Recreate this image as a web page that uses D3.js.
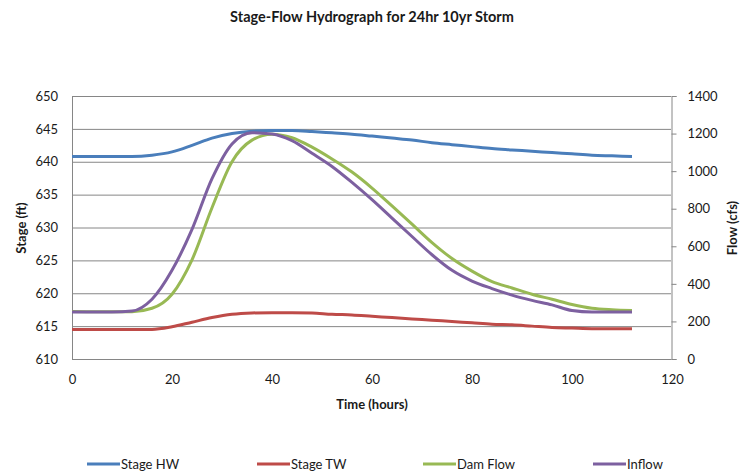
<!DOCTYPE html>
<html>
<head>
<meta charset="utf-8">
<script src="https://cdn.jsdelivr.net/npm/d3@7"></script>
<style>
  body { margin: 0; background: #fff; }
  svg { font-family: Lato, "Open Sans", sans-serif; }
</style>
</head>
<body>
<div id="chart"></div>
<script>
// data (time in hours)
const hours   = [0, 4, 8, 12, 16, 20, 24, 28, 32, 36, 40, 44, 48, 52, 56, 60, 64, 68, 72, 76, 80, 84, 88, 92, 96, 100, 104, 108, 112];
const stageHW = [640.8, 640.8, 640.8, 640.8, 641.0, 641.5, 642.5, 643.6, 644.3, 644.65, 644.75, 644.75, 644.6, 644.4, 644.2, 643.9, 643.6, 643.3, 642.9, 642.6, 642.3, 642.0, 641.8, 641.6, 641.4, 641.2, 641.0, 640.9, 640.8];
const stageTW = [614.5, 614.5, 614.5, 614.5, 614.5, 614.9, 615.6, 616.3, 616.8, 617.0, 617.05, 617.05, 617.0, 616.8, 616.7, 616.5, 616.3, 616.1, 615.9, 615.7, 615.5, 615.3, 615.2, 615.0, 614.8, 614.7, 614.6, 614.6, 614.6];
const damFlow = [253, 252, 252, 252, 270, 345, 528, 805, 1050, 1165, 1197, 1178, 1128, 1065, 995, 910, 815, 718, 620, 535, 468, 412, 378, 345, 318, 290, 270, 262, 258];
const inflow  = [250, 250, 250, 255, 318, 472, 690, 960, 1145, 1205, 1198, 1162, 1095, 1025, 940, 848, 750, 652, 555, 472, 415, 375, 340, 312, 288, 258, 250, 250, 250];

const leftTicks  = [610, 615, 620, 625, 630, 635, 640, 645, 650];
const rightTicks = [0, 200, 400, 600, 800, 1000, 1200, 1400];
const xTicks     = [0, 20, 40, 60, 80, 100, 120];

const seriesNames  = ["Stage HW", "Stage TW", "Dam Flow", "Inflow"];
const seriesColors = ["#4A7EBB", "#BE4B48", "#98B954", "#7D60A0"];

var width = 747, height = 471;
var plot = {left: 72, right: 671, top: 96, bottom: 359};
var gridColor = "#868686";

const svg = d3.select("#chart").append("svg")
    .attr("width", width)
    .attr("height", height);

var xScale = d3.scaleLinear().domain([0, 120]).range([plot.left, plot.left + 600]);
var yLeft  = d3.scaleLinear().domain([610, 650]).range([plot.bottom, plot.top]);
var yRight = d3.scaleLinear().domain([0, 1400]).range([plot.bottom, plot.top]);

// gridlines from the stage axis
svg.append("g").selectAll("line").data(leftTicks.slice(1)).enter().append("line")
    .attr("x1", plot.left).attr("x2", plot.right)
    .attr("y1", d => yLeft(d) + 0.5).attr("y2", d => yLeft(d) + 0.5)
    .attr("stroke", gridColor).attr("stroke-width", 1);

// left axis line
svg.append("line").attr("x1", plot.left + 0.5).attr("x2", plot.left + 0.5)
    .attr("y1", plot.top).attr("y2", plot.bottom).attr("stroke", gridColor);

// left axis
var gl = svg.append("g").attr("transform", "translate(" + plot.left + ",0)")
    .call(d3.axisLeft(yLeft).tickValues(leftTicks).tickSize(0).tickPadding(14));
gl.select(".domain").remove();

// right axis
var gr = svg.append("g").attr("transform", "translate(" + (plot.right + 0.5) + ",0)")
    .call(d3.axisRight(yRight).tickValues(rightTicks).tickFormat(d3.format("d")).tickSize(5).tickPadding(11));
gr.select(".domain").attr("stroke", gridColor);
gr.selectAll(".tick line").attr("stroke", gridColor);

// bottom axis
var gb = svg.append("g").attr("transform", "translate(0," + (plot.bottom + 0.5) + ")")
    .call(d3.axisBottom(xScale).tickValues(xTicks).tickSize(0).tickPadding(15));
gb.select(".domain").attr("stroke", gridColor).attr("d", "M" + plot.left + ",0H" + (plot.right + 0.5));

svg.selectAll(".tick text").attr("font-size", 13).attr("fill", "#1a1a1a")
    .style("font-family", "Lato, 'Open Sans', sans-serif");

// series lines
var lineL = d3.line().x((d, i) => xScale(hours[i])).y(d => yLeft(d)).curve(d3.curveMonotoneX);
var lineR = d3.line().x((d, i) => xScale(hours[i])).y(d => yRight(d)).curve(d3.curveMonotoneX);

const series = [
    {values: stageHW, line: lineL},
    {values: stageTW, line: lineL},
    {values: damFlow, line: lineR},
    {values: inflow,  line: lineR}
];
series.forEach(function(s, i) {
    svg.append("path")
        .attr("d", s.line(s.values))
        .attr("fill", "none")
        .attr("stroke", seriesColors[i])
        .attr("stroke-width", 3);
});

// titles
svg.append("text").attr("x", 372).attr("y", 22).attr("text-anchor", "middle")
    .attr("font-size", 14.5).attr("font-weight", "bold").attr("fill", "#1a1a1a")
    .text("Stage-Flow Hydrograph for 24hr 10yr Storm");
svg.append("text").attr("x", 372).attr("y", 409).attr("text-anchor", "middle")
    .attr("font-size", 13).attr("font-weight", "bold").attr("fill", "#1a1a1a")
    .text("Time (hours)");
svg.append("text").attr("transform", "translate(26,228) rotate(-90)").attr("text-anchor", "middle")
    .attr("font-size", 13).attr("font-weight", "bold").attr("fill", "#1a1a1a")
    .text("Stage (ft)");
svg.append("text").attr("transform", "translate(737,228) rotate(-90)").attr("text-anchor", "middle")
    .attr("font-size", 13).attr("font-weight", "bold").attr("fill", "#1a1a1a")
    .text("Flow (cfs)");

// legend
var legendX = [87, 257, 423, 593];
var legend = svg.append("g").selectAll("g").data(seriesNames).enter().append("g")
    .attr("transform", (d, i) => "translate(" + legendX[i] + ",464)");
legend.append("line").attr("x1", 0).attr("x2", 33).attr("y1", 0).attr("y2", 0)
    .attr("stroke", (d, i) => seriesColors[i]).attr("stroke-width", 3);
legend.append("text").attr("x", 34).attr("y", 5).attr("font-size", 13).attr("fill", "#1a1a1a")
    .text(d => d);
</script>
</body>
</html>
